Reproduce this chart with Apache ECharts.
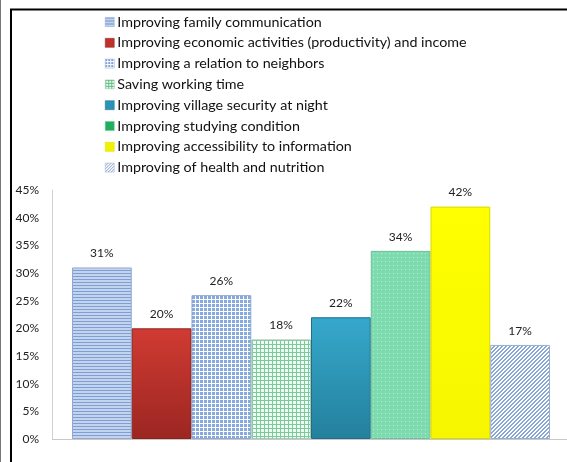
<!DOCTYPE html>
<html>
<head>
<meta charset="utf-8">
<script src="https://cdn.jsdelivr.net/npm/echarts@6/dist/echarts.min.js"></script>
<style>
  html, body { margin: 0; padding: 0; background: #fff; }
  #chart { width: 567px; height: 462px; }
</style>
</head>
<body>
<div id="chart"></div>
<script>
// Benefits reported, share of respondents (%)
const categories = ['Benefit'];
const seriesNames = [
  'Improving family communication',
  'Improving economic activities (productivity) and income',
  'Improving a relation to neighbors',
  'Saving working time',
  'Improving village security at night',
  'Improving studying condition',
  'Improving accessibility to information',
  'Improving of health and nutrition'
];
const seriesValues = [31, 20, 26, 18, 22, 34, 42, 17];
const yTicks = { min: 0, max: 45, interval: 5 };

// Tiled fills drawn on small canvases
function tile(w, h, bg, draw) {
  const c = document.createElement('canvas');
  c.width = w; c.height = h;
  const ctx = c.getContext('2d');
  ctx.fillStyle = bg;
  ctx.fillRect(0, 0, w, h);
  draw(ctx);
  return { image: c, repeat: 'repeat' };
}
function vgrad(top, bottom) {
  return new echarts.graphic.LinearGradient(0, 0, 0, 1, [
    { offset: 0, color: top },
    { offset: 1, color: bottom }
  ]);
}

const fills = [
  // horizontal blue stripes
  tile(4, 3, '#c3d5ee', ctx => { ctx.fillStyle = '#7f9fd4'; ctx.fillRect(0, 0, 4, 1); }),
  vgrad('#d03b32', '#9c2622'),
  // blue squares on a white grid
  tile(4, 4, '#ffffff', ctx => { ctx.fillStyle = '#86a9e0'; ctx.fillRect(0, 0, 3, 3); }),
  // green grid
  tile(4, 4, '#f1fbf5', ctx => { ctx.fillStyle = '#78cc98'; ctx.fillRect(0, 0, 4, 1); ctx.fillRect(0, 0, 1, 4); }),
  vgrad('#36a8cc', '#24809d'),
  // mint with faint white dots
  tile(4, 4, '#7edaaf', ctx => { ctx.fillStyle = '#b4ecd1'; ctx.fillRect(1, 1, 1, 1); }),
  vgrad('#ffff00', '#f6f600'),
  // diagonal stripes
  tile(4, 4, '#ffffff', ctx => {
    ctx.fillStyle = '#88a6d6';
    for (let i = 0; i < 4; i++) { ctx.fillRect(3 - i, i, 1, 1); ctx.fillRect((3 - i + 1) % 4, i, 1, 1); }
  })
];
const borders = ['#8fa8cf', '#8e221d', '#8fa8cf', '#a8c8b4', '#1d6e89', '#6cc09a', '#d8d800', '#9aafcf'];
const legendFills = [
  tile(3, 3, '#c3d5ee', ctx => { ctx.fillStyle = '#6f91cc'; ctx.fillRect(0, 0, 3, 1); }),
  '#c0312a',
  tile(3, 3, '#ffffff', ctx => { ctx.fillStyle = '#7b9fdb'; ctx.fillRect(0, 0, 2, 2); }),
  tile(3, 3, '#e9f7ee', ctx => { ctx.fillStyle = '#62c086'; ctx.fillRect(0, 0, 3, 1); ctx.fillRect(0, 0, 1, 3); }),
  '#2b93b8',
  '#1fae5e',
  '#f2f200',
  tile(3, 3, '#ffffff', ctx => { ctx.fillStyle = '#7d9bd0'; ctx.fillRect(2, 0, 1, 1); ctx.fillRect(1, 1, 1, 1); ctx.fillRect(0, 2, 1, 1); })
];

const font = 'Lato, "Open Sans", sans-serif';

const series = seriesNames.map((name, i) => ({
  name,
  type: 'bar',
  data: [seriesValues[i]],
  barGap: '0%',
  barWidth: 59.75,
  itemStyle: { color: fills[i], borderColor: borders[i], borderWidth: 1 },
  label: {
    show: true,
    position: 'top',
    distance: 8,
    formatter: '{c}%',
    fontFamily: font,
    fontSize: 12,
    color: '#222'
  }
}));

const chart = echarts.init(document.getElementById('chart'), null, { renderer: 'canvas' });
chart.setOption({
  animation: false,
  backgroundColor: '#fff',
  grid: { left: 55, right: 0, top: 190, bottom: 23 },
  legend: {
    orient: 'vertical',
    left: 100,
    top: 9,
    itemWidth: 9,
    itemHeight: 9,
    itemGap: 4.8,
    icon: 'rect',
    data: seriesNames.map((name, i) => ({ name, itemStyle: { color: legendFills[i], borderColor: borders[i], borderWidth: 0.5 } })),
    textStyle: { fontFamily: font, fontSize: 14.3, color: '#111', lineHeight: 16, padding: [0, 0, 0, -2] }
  },
  xAxis: {
    type: 'category',
    data: categories,
    axisLine: { lineStyle: { color: '#c8c8c8', width: 1 } },
    axisTick: { show: false },
    axisLabel: { show: false }
  },
  yAxis: {
    type: 'value',
    min: yTicks.min,
    max: yTicks.max,
    interval: yTicks.interval,
    offset: 3,
    axisLine: { show: true, lineStyle: { color: '#d0d0d0', width: 1 } },
    axisTick: { show: false },
    splitLine: { show: false },
    axisLabel: { formatter: '{value}%', fontFamily: font, fontSize: 12, color: '#222', margin: 13 }
  },
  graphic: [
    { type: 'line', shape: { x1: 0.5, y1: 0, x2: 0.5, y2: 462 }, style: { stroke: '#777', lineWidth: 1 } },
    { type: 'line', shape: { x1: 10, y1: 9.5, x2: 567, y2: 9.5 }, style: { stroke: '#000', lineWidth: 2 } },
    { type: 'line', shape: { x1: 11, y1: 9, x2: 11, y2: 462 }, style: { stroke: '#000', lineWidth: 2 } },
    // axis corner joining the offset value axis to the category axis
    { type: 'line', shape: { x1: 52, y1: 439.5, x2: 55, y2: 439.5 }, style: { stroke: '#c8c8c8', lineWidth: 1 } }
  ],
  series
});
</script>
</body>
</html>
